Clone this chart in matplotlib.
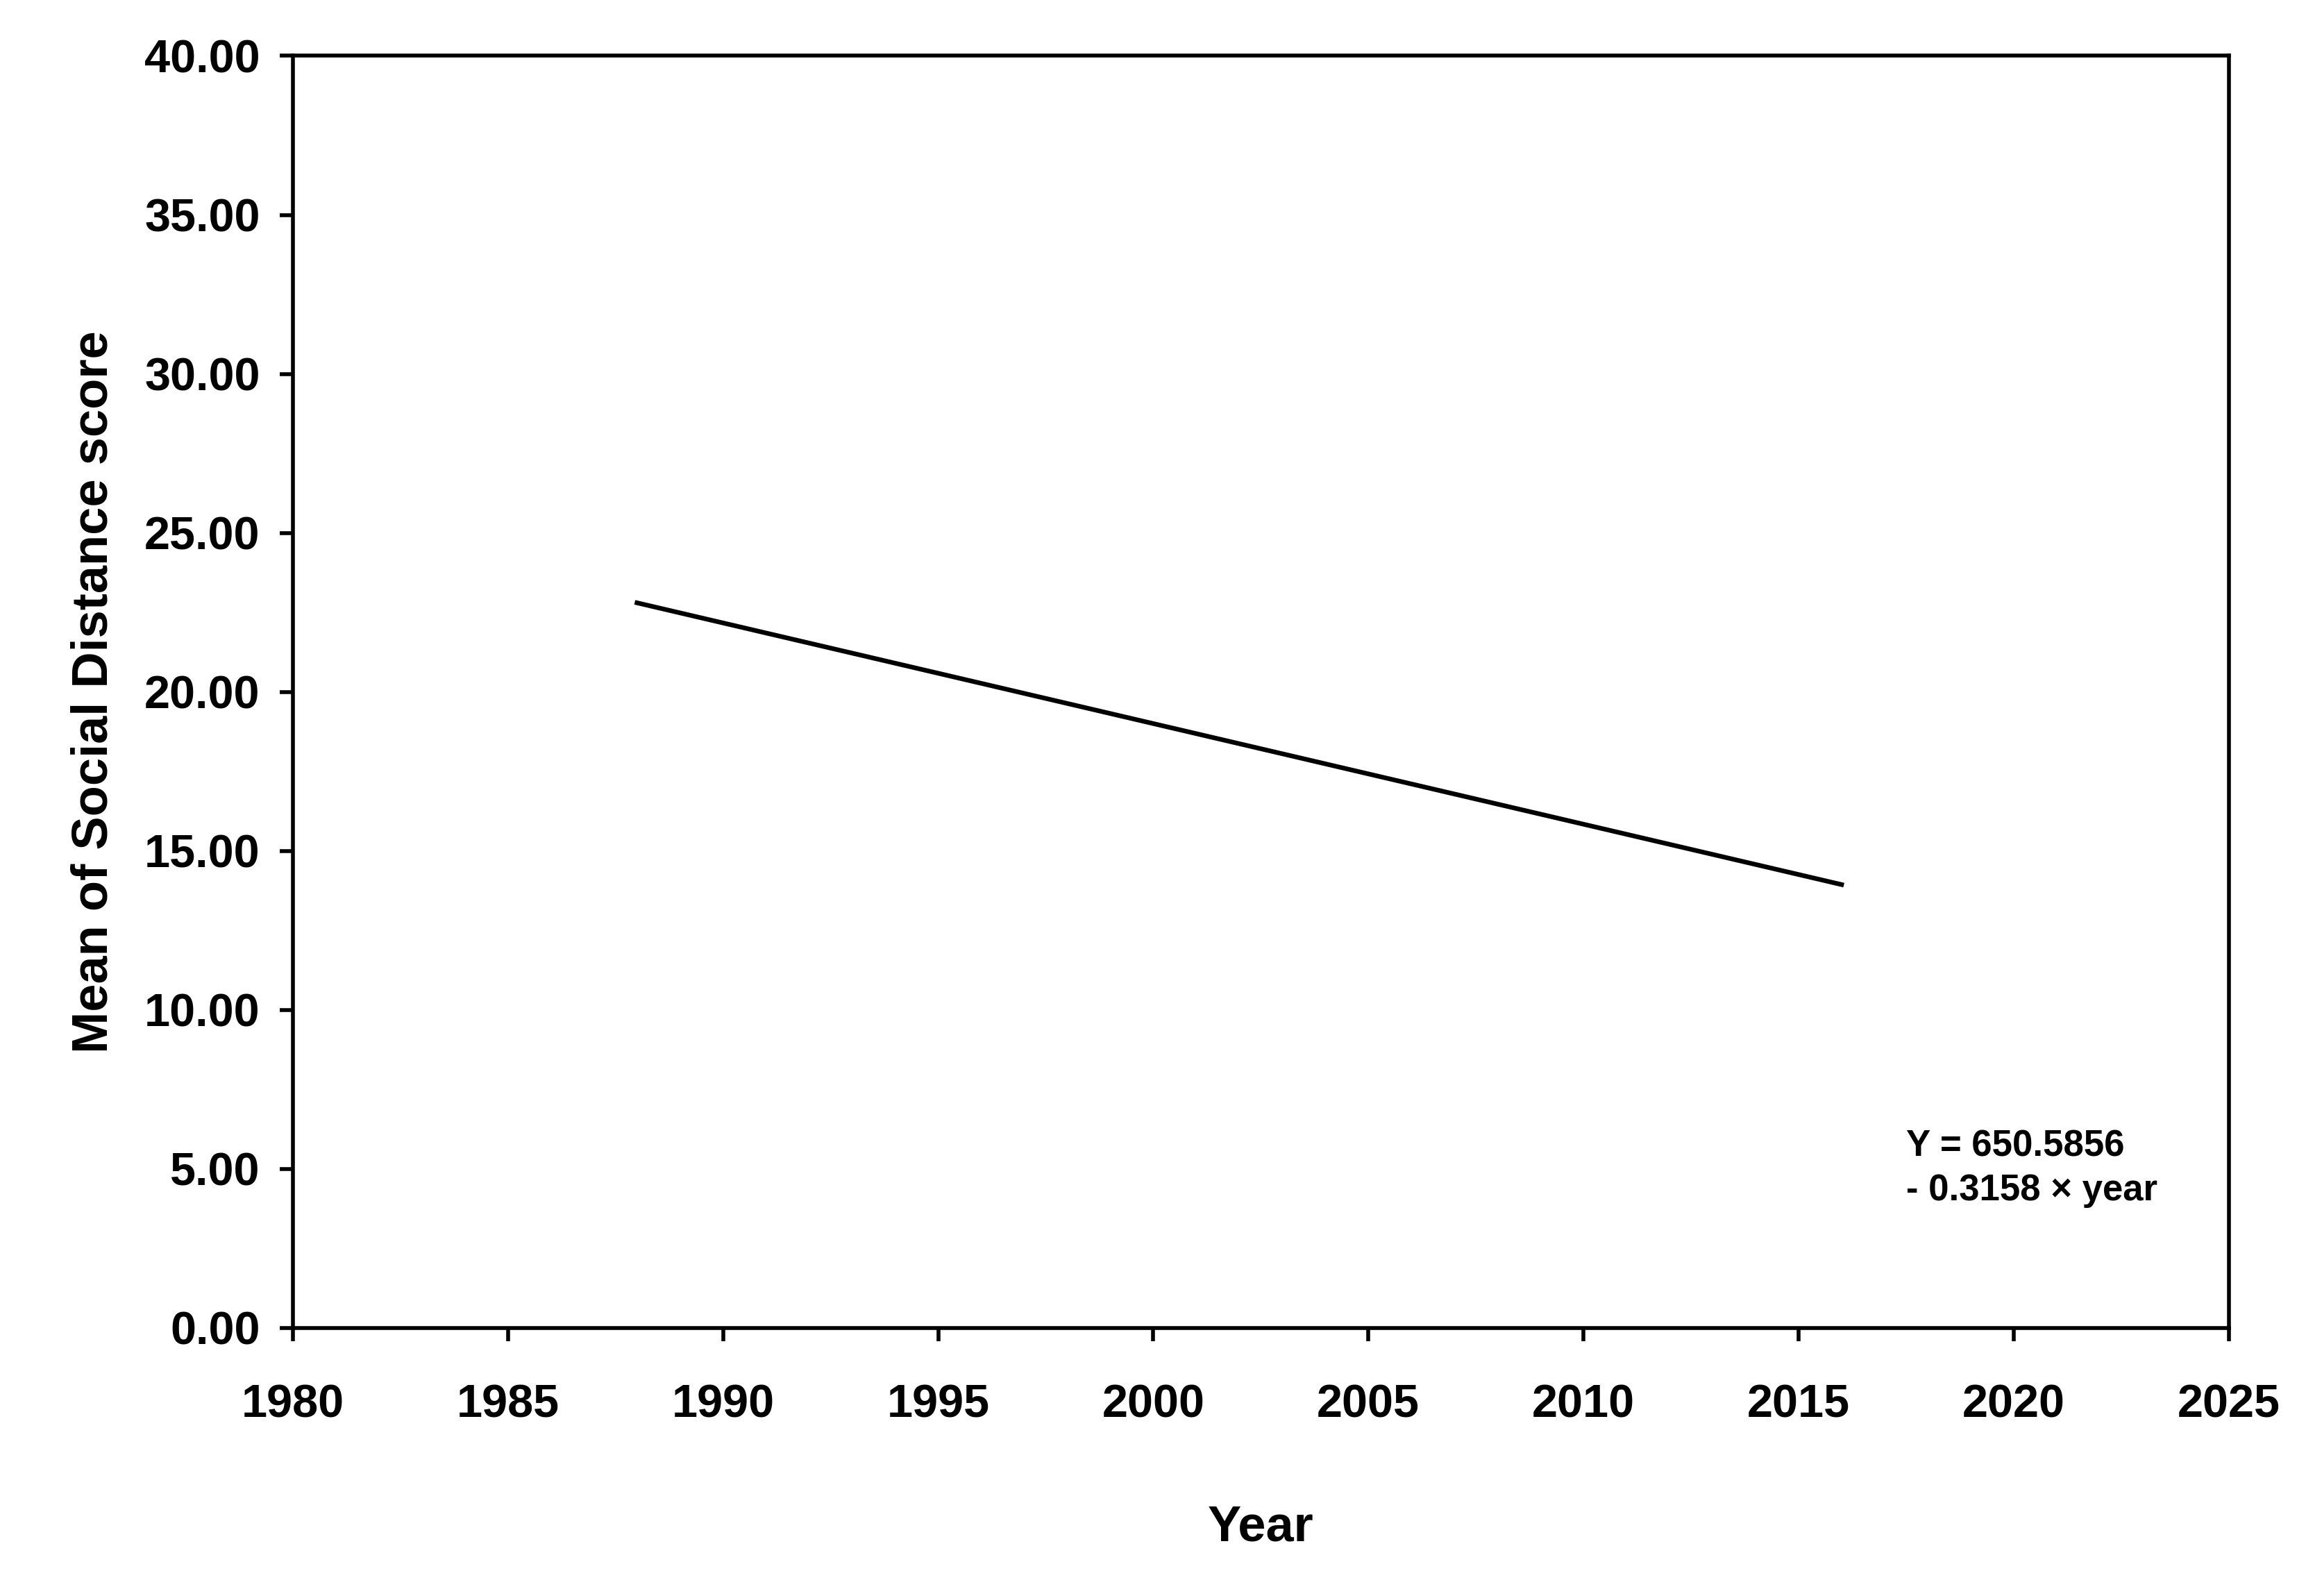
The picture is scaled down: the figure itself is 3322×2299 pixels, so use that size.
import matplotlib
matplotlib.use("Agg")
import matplotlib.pyplot as plt

# regression line endpoints
years = [1988, 2016]
scores = [22.80, 13.94]
x_ticks = [1980, 1985, 1990, 1995, 2000, 2005, 2010, 2015, 2020, 2025]
y_ticks = [0, 5, 10, 15, 20, 25, 30, 35, 40]

plt.rcParams["font.family"] = ["Liberation Sans", "DejaVu Sans"]
plt.rcParams["font.weight"] = "bold"

fig = plt.figure(figsize=(16.61, 11.495), dpi=200)
ax = fig.add_axes([0.127, 0.168, 0.8395, 0.797])
ax.plot(years, scores, color="black", lw=2.4)

ax.set_xlim(1980, 2025)
ax.set_ylim(0, 40)
ax.set_xticks(x_ticks)
ax.set_yticks(y_ticks)
ax.set_yticklabels([f"{v:.2f}" for v in y_ticks])
ax.tick_params(direction="out", length=7, width=2, labelsize=24)
ax.tick_params(axis="x", pad=22)
ax.tick_params(axis="y", pad=10)
for s in ax.spines.values():
    s.set_linewidth(2)

ax.set_xlabel("Year", fontsize=26, fontweight="bold", labelpad=40)
ax.set_ylabel("Mean of Social Distance score", fontsize=26, fontweight="bold", labelpad=14)
ax.text(2017.5, 6.25, "Y = 650.5856\n- 0.3158 \u00d7 year", fontsize=19,
        fontweight="bold", va="top", ha="left", linespacing=1.35)

fig.savefig("out.png", dpi=200)
